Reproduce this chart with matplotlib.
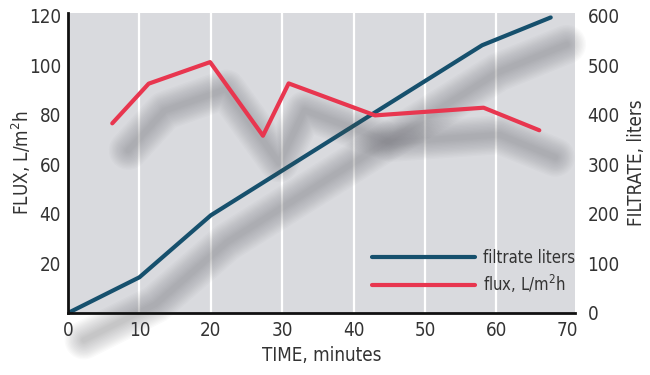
import matplotlib
matplotlib.use("Agg")
import matplotlib.pyplot as plt
from matplotlib import font_manager
from matplotlib.transforms import ScaledTranslation
from matplotlib.lines import Line2D

# data
filtrate_time = [0, 10, 20, 58, 67.6]
filtrate_liters = [0, 72, 197, 540, 596]

flux_time = [6.2, 11.3, 19.9, 27.3, 30.9, 43.0, 58.2, 66.0]
flux_values = [76.5, 92.5, 101.2, 71.5, 92.6, 79.7, 82.8, 73.7]

x_ticks = [0, 10, 20, 30, 40, 50, 60, 70]
flux_ticks = [20, 40, 60, 80, 100, 120]
filtrate_ticks = [0, 100, 200, 300, 400, 500, 600]

BLUE = "#16506d"
RED = "#e8364f"
BG = "#d9dade"
TXT = "#333333"

# look for a narrow / condensed face, the reference uses one
narrow = None
for f in font_manager.fontManager.ttflist:
    n = f.name.lower()
    if "narrow" in n or "condensed" in n or f.stretch in ("condensed", "semi-condensed"):
        narrow = f
        break

if narrow is not None:
    plt.rcParams['font.family'] = [narrow.name, 'DejaVu Sans']
    plt.rcParams['font.stretch'] = narrow.stretch
    FS, LFS = 13.5, 12
else:
    plt.rcParams['font.family'] = ['Liberation Sans', 'DejaVu Sans']
    FS, LFS = 12.5, 10.5

fig = plt.figure(figsize=(6.5, 3.75), dpi=100)
ax2 = fig.add_axes([68 / 650, 1 - 313 / 375, 507 / 650, 300 / 375])
ax = ax2.twinx()
# keep flux axis on the left, filtrate on the right
ax.yaxis.tick_left()
ax.yaxis.set_label_position("left")
ax2.yaxis.tick_right()
ax2.yaxis.set_label_position("right")
ax.set_zorder(ax2.get_zorder() + 1)
ax.patch.set_visible(False)
ax2.set_facecolor(BG)

ax2.set_xlim(0, 71)
ax.set_ylim(0, 121)
ax2.set_ylim(0, 605)

# white vertical grid
for t in x_ticks[1:-1]:
    ax2.axvline(t, color="white", lw=1.6, zorder=1)


def shadow(axis, xs, ys):
    # fake blurred drop shadow: stacked faint strokes, shifted right/down
    off = axis.transData + ScaledTranslation(0.16, -0.27, fig.dpi_scale_trans)
    for lw in range(28, 2, -2):
        axis.plot(xs, ys, color="#55555d", alpha=0.026, lw=lw,
                  solid_capstyle="round", solid_joinstyle="round",
                  transform=off, clip_on=False, zorder=2)


shadow(ax2, filtrate_time, filtrate_liters)
ax2.plot(filtrate_time, filtrate_liters, color=BLUE, lw=3, zorder=3,
         solid_capstyle="round", solid_joinstyle="round")

shadow(ax, flux_time, flux_values)
ax.plot(flux_time, flux_values, color=RED, lw=3, zorder=3,
        solid_capstyle="round", solid_joinstyle="round")

# spines
for a in (ax, ax2):
    for s in a.spines.values():
        s.set_visible(False)
ax.spines["left"].set_visible(True)
ax.spines["bottom"].set_visible(True)
ax.spines["left"].set_linewidth(2)
ax.spines["bottom"].set_linewidth(2)
ax.spines["left"].set_color("#111111")
ax.spines["bottom"].set_color("#111111")

ax2.set_xticks(x_ticks)
ax.set_yticks(flux_ticks)
ax2.set_yticks(filtrate_ticks)
ax2.tick_params(axis="x", length=0, pad=6, labelsize=FS, labelcolor=TXT)
ax.tick_params(axis="x", length=0, labelbottom=False)
ax.tick_params(axis="y", length=0, pad=5, labelsize=FS, labelcolor=TXT)
ax2.tick_params(axis="y", length=0, pad=9, labelsize=FS, labelcolor=TXT)

ax2.set_xlabel("TIME, minutes", fontsize=FS, color=TXT)
ax.set_ylabel("FLUX, L/m$^2$h", fontsize=FS, color=TXT)
ax2.set_ylabel("FILTRATE, liters", fontsize=FS, color=TXT)
ax2.xaxis.set_label_coords(0.5, -0.11)
ax.yaxis.set_label_coords(-0.069, 0.5)
ax2.yaxis.set_label_coords(1.103, 0.5)

handles = [Line2D([], [], color=BLUE, lw=3, solid_capstyle="round"),
           Line2D([], [], color=RED, lw=3, solid_capstyle="round")]
leg = ax.legend(handles, ["filtrate liters", "flux, L/m$^2$h"],
                loc="upper left", bbox_to_anchor=(372 / 650, 1 - 249 / 375),
                bbox_transform=fig.transFigure, frameon=False,
                fontsize=LFS, handlelength=103 / (LFS * 1.389), handletextpad=0.5,
                labelspacing=0.35, borderpad=0, borderaxespad=0)
for t in leg.get_texts():
    t.set_color(TXT)

fig.savefig("out.png", dpi=100)
